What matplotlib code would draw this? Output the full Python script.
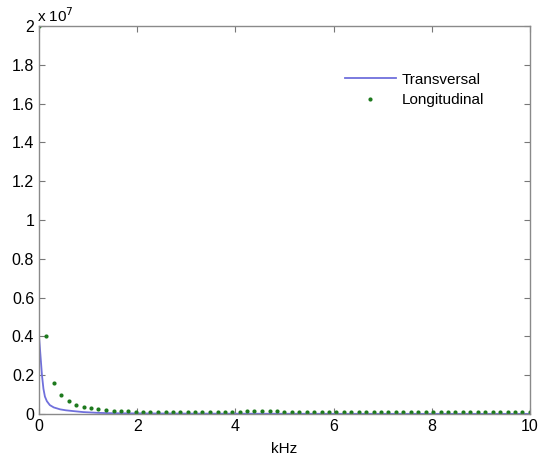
import matplotlib
matplotlib.use("Agg")
import matplotlib.pyplot as plt

plt.rcParams['font.family'] = ['Liberation Sans', 'DejaVu Sans']

# Transversal (line), values in units of 1e7
trans_khz = [0.0, 0.03, 0.06, 0.09, 0.12, 0.16, 0.22, 0.3, 0.43, 0.55, 0.7, 0.9, 1.2, 1.5, 2.0, 3.0, 4.0, 6.0, 8.0, 10.0]
trans_val = [0.40, 0.30, 0.20, 0.13, 0.09, 0.066, 0.046, 0.034, 0.024, 0.019, 0.015, 0.010, 0.006, 0.004, 0.003, 0.002, 0.0015, 0.001, 0.0008, 0.0007]

# Longitudinal (dots), values in units of 1e7
long_khz = [0.00, 0.15, 0.30, 0.45, 0.61, 0.76, 0.91, 1.06, 1.21, 1.36, 1.52, 1.67, 1.82, 1.97,
            2.12, 2.27, 2.42, 2.58, 2.73, 2.88, 3.03, 3.18, 3.33, 3.48, 3.64, 3.79, 3.94, 4.09,
            4.24, 4.39, 4.55, 4.70, 4.85, 5.00, 5.15, 5.30, 5.45, 5.61, 5.76, 5.91, 6.06, 6.21,
            6.36, 6.52, 6.67, 6.82, 6.97, 7.12, 7.27, 7.42, 7.58, 7.73, 7.88, 8.03, 8.18, 8.33,
            8.48, 8.64, 8.79, 8.94, 9.09, 9.24, 9.39, 9.55, 9.70, 9.85, 10.00]
long_val = [2.0, 0.40, 0.161, 0.100, 0.065, 0.048, 0.038, 0.029, 0.024, 0.019, 0.016, 0.014, 0.013, 0.012,
            0.011, 0.010, 0.012, 0.012, 0.011, 0.011, 0.011, 0.011, 0.010, 0.010, 0.010, 0.010, 0.010, 0.010,
            0.016, 0.017, 0.017, 0.016, 0.016, 0.009, 0.009, 0.009, 0.009, 0.009, 0.009, 0.009, 0.009, 0.009,
            0.009, 0.009, 0.009, 0.009, 0.009, 0.009, 0.009, 0.009, 0.009, 0.009, 0.009, 0.009, 0.009, 0.009,
            0.008, 0.008, 0.008, 0.008, 0.008, 0.008, 0.008, 0.008, 0.008, 0.008, 0.008]

xticks = [0, 2, 4, 6, 8, 10]
yticks = [0, 0.2, 0.4, 0.6, 0.8, 1, 1.2, 1.4, 1.6, 1.8, 2]
yticklabels = ['0', '0.2', '0.4', '0.6', '0.8', '1', '1.2', '1.4', '1.6', '1.8', '2']

fig = plt.figure(figsize=(5.39, 4.63), dpi=100)
ax = fig.add_axes([0.0724, 0.1058, 0.9106, 0.838])

ax.plot(trans_khz, trans_val, color='#7070dc', lw=1.3, label='Transversal')
ax.plot(long_khz, long_val, linestyle='none', marker='o', ms=3.0, color='#1e7a1e',
        markeredgewidth=0, label='Longitudinal')

ax.set_xlim(0, 10)
ax.set_ylim(0, 2)
ax.set_xticks(xticks)
ax.set_xticklabels([str(t) for t in xticks])
ax.set_yticks(yticks)
ax.set_yticklabels(yticklabels)
ax.tick_params(direction='in', top=True, right=True, length=4, width=0.8,
               colors='#777777', labelcolor='black', labelsize=11.5)
for s in ax.spines.values():
    s.set_color('#8a8a8a')
    s.set_linewidth(1.0)

ax.set_xlabel('kHz', fontsize=11, labelpad=6)
fig.text(0.068, 0.952, r'x 10$^7$', fontsize=11, ha='left', va='baseline')

ax.legend(loc='upper right', bbox_to_anchor=(0.935, 0.915), frameon=False, fontsize=11,
          handlelength=3.4, handletextpad=0.35, labelspacing=0.4)

fig.savefig('out.png', dpi=100)
